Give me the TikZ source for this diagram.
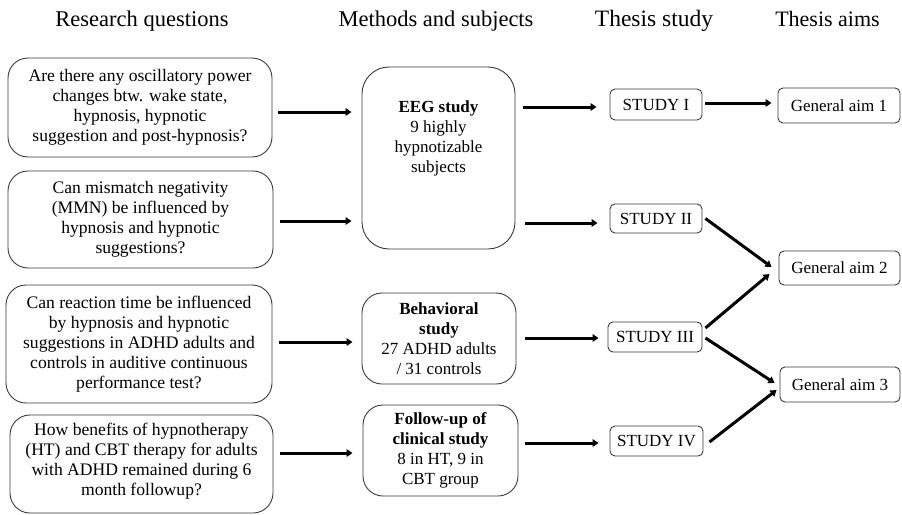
\documentclass[tikz,border=0pt]{standalone}
\usepackage{fontspec}
\setmainfont{Liberation Serif}
\usetikzlibrary{arrows.meta}
\definecolor{boxgray}{HTML}{3A3A3A}
\begin{document}
\begin{tikzpicture}[x=1pt,y=-1pt,
  txt/.style={align=center, inner sep=0pt, font=\fontsize{17}{20}\selectfont},
  qbox/.style={txt, draw=boxgray, line width=0.9pt, rounded corners=20pt, font=\fontsize{17.6}{20}\selectfont},
  mbox/.style={txt, draw=boxgray, line width=0.9pt, rounded corners=24pt},
  sbox/.style={draw=boxgray, line width=0.9pt, rounded corners=5pt, inner sep=0pt, font=\fontsize{17}{20}\selectfont},
  hdr/.style={anchor=base, inner sep=0pt, font=\fontsize{22.5}{26}\selectfont},
  arr/.style={line width=3pt, -{Triangle[length=6pt,width=7.5pt]}}
]
\useasboundingbox (0,0) rectangle (902,514);

% headers
\node[hdr] (h1) at (142,26) {Research questions};
\node[hdr] (h2) at (436,26) {Methods and subjects};
\node[hdr, font=\fontsize{23.5}{26}\selectfont] (h3) at (654,26) {Thesis study};
\node[hdr, font=\fontsize{22}{26}\selectfont] (h4) at (827.5,26) {Thesis aims};

% research questions
\node[qbox, minimum width=264pt, minimum height=99pt] (Q1) at (140,107.5)
  {Are there any oscillatory power\\changes btw. wake state,\\hypnosis, hypnotic\\suggestion and post-hypnosis?};
\node[qbox, minimum width=265pt, minimum height=97pt] (Q2) at (140.5,219.5)
  {Can mismatch negativity\\(MMN) be influenced by\\hypnosis and hypnotic\\suggestions?};
\node[qbox, minimum width=266pt, minimum height=118pt] (Q3) at (139,344)
  {Can reaction time be influenced\\by hypnosis and hypnotic\\suggestions in ADHD adults and\\controls in auditive continuous\\performance test?};
\node[qbox, minimum width=263pt, minimum height=98pt] (Q4box) at (141.5,464) {};
\node[txt, font=\fontsize{17.6}{20}\selectfont] (Q4) at (141.5,461)
  {How benefits of hypnotherapy\\(HT) and CBT therapy for adults\\with ADHD remained during 6\\month followup?};

% methods
\node[mbox, rounded corners=27pt, minimum width=153pt, minimum height=182pt] (EEG) at (438.5,158) {};
\node[txt] (EEGt) at (438.5,138) {\textbf{EEG study}\\9 highly\\hypnotizable\\subjects};
\node[mbox, rounded corners=20pt, minimum width=154pt, minimum height=91pt] (BEH) at (439,338.5)
  {\textbf{Behavioral}\\\textbf{study}\\27 ADHD adults\\/ 31 controls};
\node[mbox, rounded corners=20pt, minimum width=155pt, minimum height=91pt] (FOL) at (440.5,450.5)
  {\textbf{Follow-up of}\\\textbf{clinical study}\\8 in HT, 9 in\\CBT group};

% studies
\node[sbox, minimum width=92pt, minimum height=31pt] (S1) at (656,104.5) {STUDY I};
\node[sbox, minimum width=92pt, minimum height=29pt] (S2) at (656,218.5) {STUDY II};
\node[sbox, minimum width=94pt, minimum height=30pt] (S3) at (655,337) {STUDY III};
\node[sbox, minimum width=93pt, minimum height=30pt] (S4) at (656.5,441) {STUDY IV};

% aims
\node[sbox, minimum width=122pt, minimum height=35pt] (G1) at (839,105.5) {General aim 1};
\node[sbox, minimum width=121pt, minimum height=34pt] (G2) at (839.5,268) {General aim 2};
\node[sbox, minimum width=120pt, minimum height=35pt] (G3) at (840,384.5) {General aim 3};

% arrows questions -> methods
\draw[arr, shorten <=6pt, shorten >=10pt] ([yshift=-4.5pt]Q1.east) -- ([yshift=-4.5pt]Q1.east -| EEG.west);
\draw[arr, shorten <=7pt, shorten >=10pt] ([yshift=-1.5pt]Q2.east) -- ([yshift=-1.5pt]Q2.east -| EEG.west);
\draw[arr, shorten <=7pt, shorten >=9pt] ([yshift=2pt]Q3.east) -- ([yshift=2pt]Q3.east -| BEH.west);
\draw[arr, shorten <=7pt, shorten >=10pt] ([yshift=11pt]Q4box.east) -- ([yshift=11pt]Q4box.east -| FOL.west);

% methods -> studies
\draw[arr, shorten <=8pt, shorten >=13pt] ([yshift=-2.5pt]S1.west -| EEG.east) -- ([yshift=-2.5pt]S1.west);
\draw[arr, shorten <=10pt, shorten >=12pt] ([yshift=-4.5pt]S2.west -| EEG.east) -- ([yshift=-4.5pt]S2.west);
\draw[arr, shorten <=9pt, shorten >=9pt] ([yshift=-1pt]S3.west -| BEH.east) -- ([yshift=-1pt]S3.west);
\draw[arr, shorten <=7pt, shorten >=11pt] ([yshift=-2pt]S4.west -| FOL.east) -- ([yshift=-2pt]S4.west);

% studies -> aims
\draw[arr, shorten <=3pt, shorten >=6pt] ([yshift=1.5pt]S1.east) -- ([yshift=1.5pt]S1.east -| G1.west);
\draw[arr] ([xshift=3pt]S2.east) -- ([shift={(-7pt,1pt)}]G2.west);
\draw[arr] ([shift={(3pt,9pt)}]S3.east) -- ([shift={(-9pt,-6pt)}]G2.west);
\draw[arr] ([shift={(3pt,-1pt)}]S3.east) -- ([shift={(-5pt,1.5pt)}]G3.west);
\draw[arr] ([shift={(6pt,-1pt)}]S4.east) -- ([shift={(-3pt,-5.5pt)}]G3.west);
\end{tikzpicture}
\end{document}
